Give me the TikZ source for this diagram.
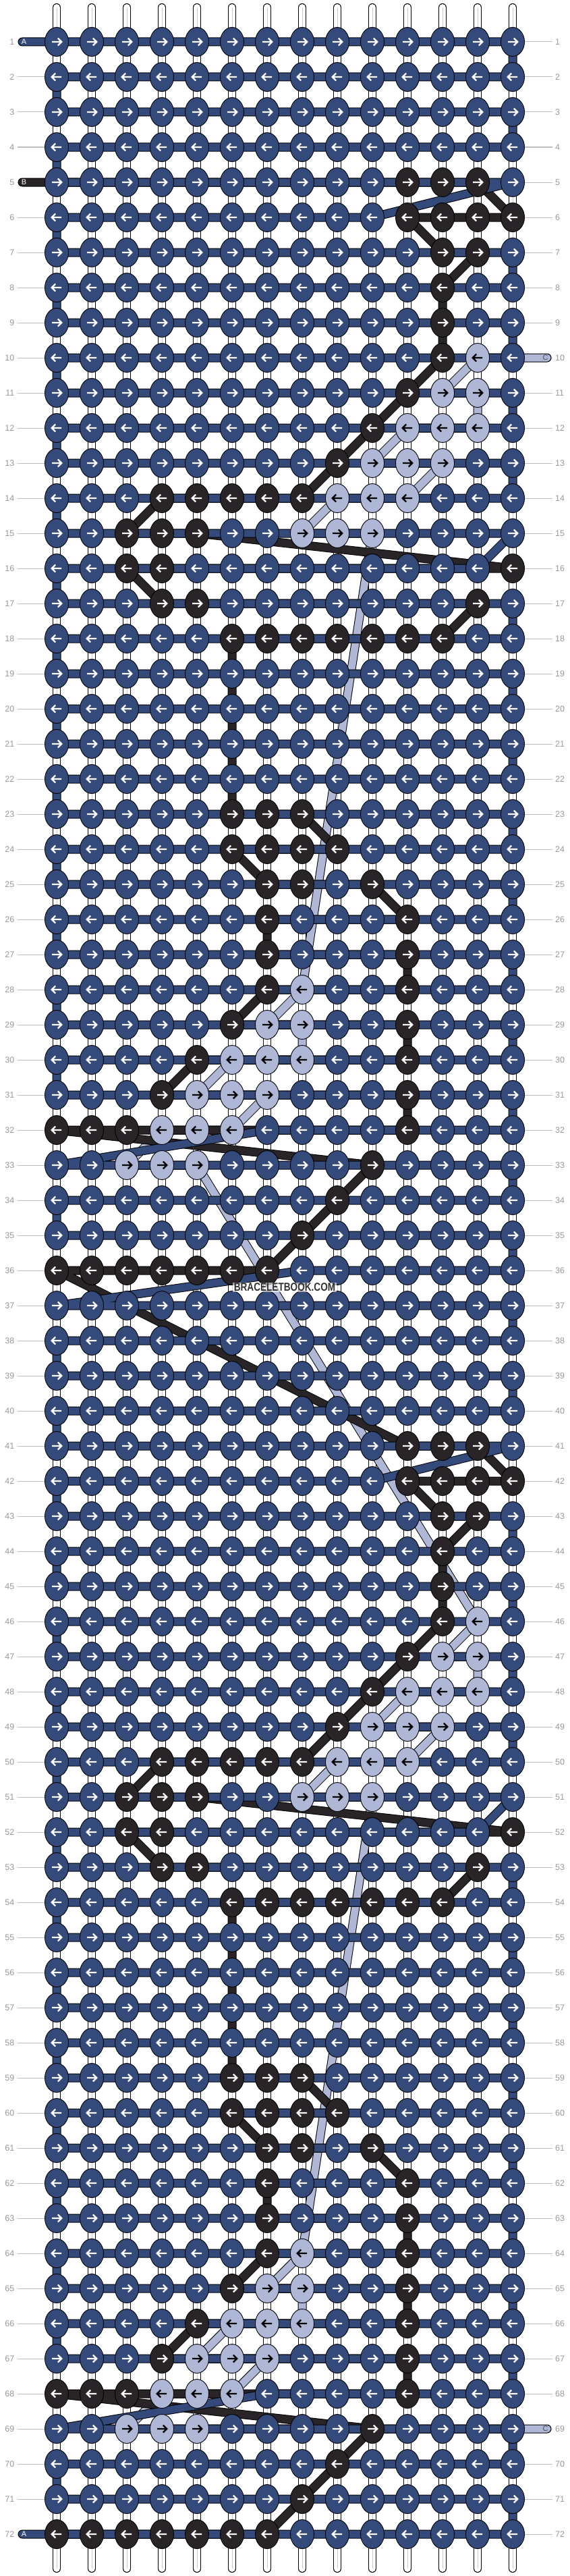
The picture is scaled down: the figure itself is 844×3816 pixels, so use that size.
\documentclass[tikz,border=0pt]{standalone}
\usepackage{fontspec}
\setmainfont{Liberation Sans}
\usetikzlibrary{shapes.geometric}
\definecolor{cA}{HTML}{344A7B}
\definecolor{cB}{HTML}{282427}
\definecolor{cC}{HTML}{AFB7D7}
\definecolor{lblgray}{HTML}{9A9A9A}
\definecolor{linegray}{HTML}{BDBDBD}
\pgfdeclarelayer{bg}
\pgfdeclarelayer{strings}
\pgfdeclarelayer{threads}
\pgfsetlayers{bg,strings,threads,main}
\newcount\prc
\def\parserow#1#2{\def\prr{#1}\prc=0 \prloop#2\relax}
\def\prloop#1{\ifx\relax#1\else\advance\prc by 1 \expandafter\xdef\csname K-\prr-\the\prc\endcsname{#1}\expandafter\prloop\fi}
\parserow{1}{aaaaaaaaaaaaaa}
\parserow{2}{aaaaaaaaaaaaaa}
\parserow{3}{aaaaaaaaaaaaaa}
\parserow{4}{aaaaaaaaaaaaaa}
\parserow{5}{aaaaaaaaaabbba}
\parserow{6}{aaaaaaaaaabbbb}
\parserow{7}{aaaaaaaaaaabba}
\parserow{8}{aaaaaaaaaaabaa}
\parserow{9}{aaaaaaaaaaabaa}
\parserow{10}{aaaaaaaaaaabca}
\parserow{11}{aaaaaaaaaabcca}
\parserow{12}{aaaaaaaaabccca}
\parserow{13}{aaaaaaaabcccaa}
\parserow{14}{aaabbbbbcccaaa}
\parserow{15}{aabbbaacccaaaa}
\parserow{16}{aabbaaaaaaaaab}
\parserow{17}{aaabbaaaaaaaba}
\parserow{18}{aaaaabbbbbbbaa}
\parserow{19}{aaaaaaaaaaaaaa}
\parserow{20}{aaaaaaaaaaaaaa}
\parserow{21}{aaaaaaaaaaaaaa}
\parserow{22}{aaaaaaaaaaaaaa}
\parserow{23}{aaaaabbbaaaaaa}
\parserow{24}{aaaaabbbbaaaaa}
\parserow{25}{aaaaaabbabaaaa}
\parserow{26}{aaaaaabaaabaaa}
\parserow{27}{aaaaaabaaabaaa}
\parserow{28}{aaaaaabcaabaaa}
\parserow{29}{aaaaabccaabaaa}
\parserow{30}{aaaabcccaabaaa}
\parserow{31}{aaabcccaaabaaa}
\parserow{32}{bbbcccaaaabaaa}
\parserow{33}{aacccaaaabaaaa}
\parserow{34}{aaaaaaaabaaaaa}
\parserow{35}{aaaaaaabaaaaaa}
\parserow{36}{bbbbbbbaaaaaaa}
\def\patha{(A-start)}
\def\pathb{(B-start)}
\def\pathc{(C-start)}
\begin{document}
\begin{tikzpicture}[x=1pt,y=1pt,
  knota/.style={ellipse,draw=black,line width=0.9pt,fill=cA,minimum width=35pt,minimum height=43pt,inner sep=0pt},
  knotb/.style={knota,fill=cB},
  knotc/.style={knota,fill=cC},
  arra/.style={draw=white,line width=2.3pt,line cap=butt,line join=miter},
  arrb/.style={arra},
  arrc/.style={arra,draw=black},
  outl/.style={draw=black,line width=13pt,line cap=round,line join=round},
  thra/.style={draw=cA,line width=11pt,line cap=round,line join=round},
  thrb/.style={thra,draw=cB},
  thrc/.style={thra,draw=cC},
  rownum/.style={text=lblgray,font=\fontsize{12.5}{12.5}\selectfont,inner sep=0pt},
  lblline/.style={draw=linegray,line width=1pt},
  pill/.style={font=\fontsize{11}{11}\selectfont,inner sep=0pt},
  wmark/.style={fill=white,fill opacity=0.6,text opacity=1,text=black!80,inner xsep=2pt,inner ysep=1pt,
    font=\bfseries\fontsize{17}{17}\selectfont,xscale=0.8,transform shape}
]
\begin{pgfonlayer}{bg}
\fill[white] (0,0) rectangle (844,-3816);
\end{pgfonlayer}
\useasboundingbox (0,0) rectangle (844,-3816);

% vertical base strings
\begin{pgfonlayer}{strings}
\foreach \cc in {1,...,14}{
  \pgfmathsetmacro\xx{84+(\cc-1)*52}
  \coordinate (s-\cc-top) at (\xx,-11);
  \coordinate (s-\cc-bot) at (\xx,-3805);
  \draw[line width=12pt,black,line cap=round] (s-\cc-top) -- (s-\cc-bot);
  \draw[line width=10pt,white,line cap=round] (s-\cc-top) -- (s-\cc-bot);
  \draw[line width=0.8pt,black!20] (s-\cc-top) -- (s-\cc-bot);
}
\end{pgfonlayer}

% thread ends
\coordinate (A-start) at (33,-62);
\coordinate (B-start) at (33,-270);
\coordinate (C-start) at (811,-530);
\coordinate (C-end) at (811,-3598);
\coordinate (A-end) at (33,-3754);

% knots
\foreach \rw in {1,...,72}{
  \pgfmathtruncatemacro\rr{mod(\rw-1,36)+1}
  \pgfmathsetmacro\yy{-(62+(\rw-1)*52)}
  \ifodd\rw\relax\def\clist{1,...,14}\def\adir{1}\else\def\clist{14,13,...,1}\def\adir{-1}\fi
  \foreach \cc in \clist {
    \pgfmathsetmacro\xx{84+(\cc-1)*52}
    \edef\kk{\csname K-\rr-\cc\endcsname}
    \edef\tmp{\noexpand\node[knot\kk] (k-\rw-\cc) at (\xx,\yy) {};
      \noexpand\draw[arr\kk,shift={(\xx,\yy)},xscale=\adir] (-7,0) -- (7,0) (1.8,5.5) -- (7.3,0) -- (1.8,-5.5);}
    \tmp
    \expandafter\xdef\csname path\kk\endcsname{\csname path\kk\endcsname\space -- (k-\rw-\cc.center)}
  }
}

% row numbers and their lines
\foreach \rw in {1,...,72}{
  \pgfmathsetmacro\yy{-(62+(\rw-1)*52)}
  \node[rownum,anchor=east] (lL-\rw) at (21.5,\yy) {\rw};
  \node[rownum,anchor=west] (lR-\rw) at (823,\yy) {\rw};
  \begin{pgfonlayer}{strings}
  \draw[lblline] ([xshift=4.5pt]lL-\rw.east) -- (k-\rw-1.west);
  \draw[lblline] (k-\rw-14.east) -- ([xshift=-4pt]lR-\rw.west);
  \end{pgfonlayer}
}

% threads
\begin{pgfonlayer}{threads}
\draw[outl] \pathc -- (C-end);
\draw[thrc] \pathc -- (C-end);
\draw[outl] \pathb;
\draw[thrb] \pathb;
\draw[outl] \patha -- (A-end);
\draw[thra] \patha -- (A-end);
\end{pgfonlayer}

% thread end letters
\node[pill,text=white] (pA1) at (35.5,-62) {A};
\node[pill,text=white] (pB1) at (35.5,-270) {B};
\node[pill,text=black!70] (pC1) at (808.5,-530) {C};
\node[pill,text=black!70] (pC2) at (808.5,-3598) {C};
\node[pill,text=white] (pA2) at (35.5,-3754) {A};

% watermark
\node[wmark] (wm) at (422,-1907) {BRACELETBOOK.COM};
\end{tikzpicture}
\end{document}
